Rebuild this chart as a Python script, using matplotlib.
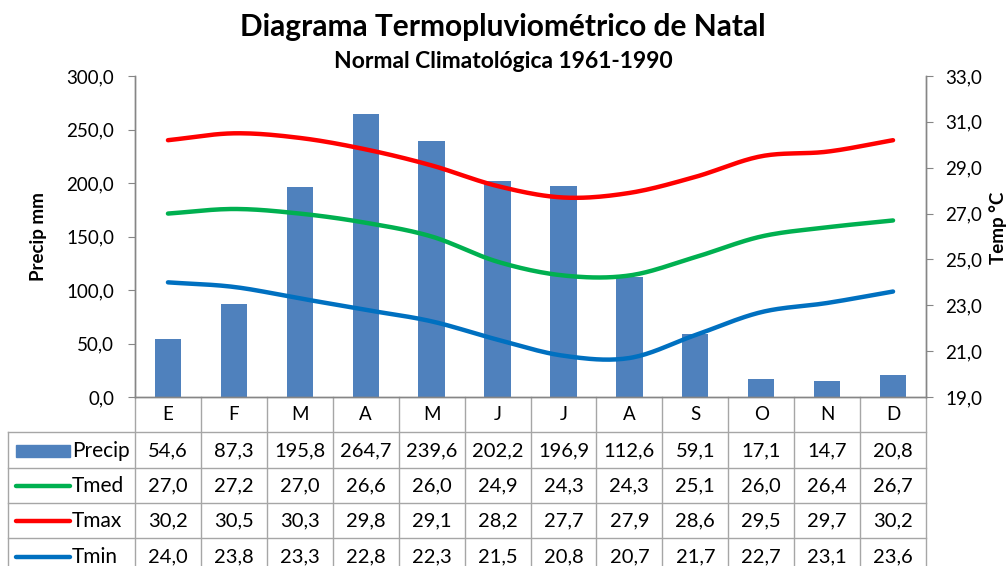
import numpy as np
import matplotlib
matplotlib.use('Agg')
import matplotlib.pyplot as plt
from matplotlib.patches import Rectangle

months = ['E', 'F', 'M', 'A', 'M', 'J', 'J', 'A', 'S', 'O', 'N', 'D']
precip = [54.6, 87.3, 195.8, 264.7, 239.6, 202.2, 196.9, 112.6, 59.1, 17.1, 14.7, 20.8]
tmed = [27.0, 27.2, 27.0, 26.6, 26.0, 24.9, 24.3, 24.3, 25.1, 26.0, 26.4, 26.7]
tmax = [30.2, 30.5, 30.3, 29.8, 29.1, 28.2, 27.7, 27.9, 28.6, 29.5, 29.7, 30.2]
tmin = [24.0, 23.8, 23.3, 22.8, 22.3, 21.5, 20.8, 20.7, 21.7, 22.7, 23.1, 23.6]
precip_ticks = [0, 50, 100, 150, 200, 250, 300]
temp_ticks = [19, 21, 23, 25, 27, 29, 31, 33]

C_BAR = '#4F81BD'
C_MED = '#00B050'
C_MAX = '#FF0000'
C_MIN = '#0070C0'
C_GRID = '#A6A6A6'

plt.rcParams['font.family'] = ['Lato', 'DejaVu Sans']

W, H = 1006, 566
fig = plt.figure(figsize=(W / 100, H / 100), dpi=100)


def fmt(v):
    return f"{v:.1f}".replace('.', ',')


def smooth(x, y, n=20):
    # Catmull-Rom rendering of the curve through the data points (Excel "smoothed line")
    x = np.asarray(x, float)
    y = np.asarray(y, float)
    px = np.concatenate([[2 * x[0] - x[1]], x, [2 * x[-1] - x[-2]]])
    py = np.concatenate([[2 * y[0] - y[1]], y, [2 * y[-1] - y[-2]]])
    xs, ys = [], []
    for i in range(1, len(px) - 2):
        t = np.linspace(0, 1, n, endpoint=False)
        for P, out in ((px, xs), (py, ys)):
            p0, p1, p2, p3 = P[i - 1], P[i], P[i + 1], P[i + 2]
            out.extend(0.5 * ((2 * p1) + (-p0 + p2) * t + (2 * p0 - 5 * p1 + 4 * p2 - p3) * t ** 2
                              + (-p0 + 3 * p1 - 3 * p2 + p3) * t ** 3))
    xs.append(x[-1])
    ys.append(y[-1])
    return np.array(xs), np.array(ys)


L, R, T, B = 135, 926, 76, 397
ax = fig.add_axes([L / W, 1 - B / H, (R - L) / W, (B - T) / H])
ax2 = ax.twinx()
ax.set_zorder(1)
ax2.set_zorder(2)
ax.patch.set_visible(False)

x = np.arange(len(months))
ax.bar(x, precip, width=0.4, color=C_BAR, zorder=2)
ax.set_xlim(-0.5, 11.5)
ax.set_ylim(0, 300)
ax.set_yticks(precip_ticks)
ax.set_yticklabels([fmt(v) for v in precip_ticks], fontsize=13.5)
ax.set_xticks([])
ax.tick_params(axis='y', length=5, pad=10, color='#868686')

for data, c in ((tmed, C_MED), (tmax, C_MAX), (tmin, C_MIN)):
    sx, sy = smooth(x, data)
    ax2.plot(sx, sy, color=c, lw=3.2, solid_capstyle='round', solid_joinstyle='round')
ax2.set_ylim(19, 33)
ax2.set_yticks(temp_ticks)
ax2.set_yticklabels([fmt(v) for v in temp_ticks], fontsize=13.5)
ax2.tick_params(axis='y', length=5, pad=9, color='#868686')

for a in (ax, ax2):
    a.spines['top'].set_visible(False)
    for s in ('left', 'right', 'bottom'):
        a.spines[s].set_color('#868686')
        a.spines[s].set_linewidth(1)

ax.set_ylabel('Precip mm', fontsize=13.5, fontweight='bold', labelpad=14)
fig.text(998 / W, 1 - 228 / H, 'Temp °C', rotation=90, fontsize=13.5, fontweight='bold',
         ha='center', va='center')

fig.text(0.5, 1 - 27 / H, 'Diagrama Termopluviométrico de Natal', fontsize=21.5, fontweight='bold',
         ha='center', va='center')
fig.text(0.5, 1 - 62 / H, 'Normal Climatológica 1961-1990', fontsize=16.5, fontweight='bold',
         ha='center', va='center')

# data table
rowh = 35.3
nrows = 5
tab = fig.add_axes([L / W, 1 - (B + rowh * nrows) / H, (R - L) / W, rowh * nrows / H])
tab.set_xlim(-0.5, 11.5)
tab.set_ylim(nrows, 0)
tab.axis('off')
colw = (R - L) / 12
xleft = -0.5 + (8 - L) / colw

for r in range(1, nrows):
    tab.plot([xleft, 11.5], [r, r], color=C_GRID, lw=1, clip_on=False)
for k in range(13):
    tab.plot([-0.5 + k, -0.5 + k], [0, nrows], color=C_GRID, lw=1, clip_on=False)
tab.plot([xleft, xleft], [1, nrows], color=C_GRID, lw=1, clip_on=False)

for i, m in enumerate(months):
    tab.text(i, 0.5, m, ha='center', va='center', fontsize=13.5)

series = [('Precip', precip), ('Tmed', tmed), ('Tmax', tmax), ('Tmin', tmin)]
colors = [C_BAR, C_MED, C_MAX, C_MIN]
for r, ((name, vals), c) in enumerate(zip(series, colors), start=1):
    yc = r + 0.52
    for i, v in enumerate(vals):
        tab.text(i, yc, fmt(v), ha='center', va='center', fontsize=14.5)
    kx0 = -0.5 + (16 - L) / colw
    kx1 = -0.5 + (70 - L) / colw
    if name == 'Precip':
        tab.add_patch(Rectangle((kx0, yc - 0.17), kx1 - kx0, 0.34, color=c, clip_on=False))
    else:
        tab.plot([kx0, kx1], [yc, yc], color=c, lw=3.2, solid_capstyle='round', clip_on=False)
    tab.text(-0.5 + (72 - L) / colw, yc, name, ha='left', va='center', fontsize=15)

fig.savefig('out.png', dpi=100)
